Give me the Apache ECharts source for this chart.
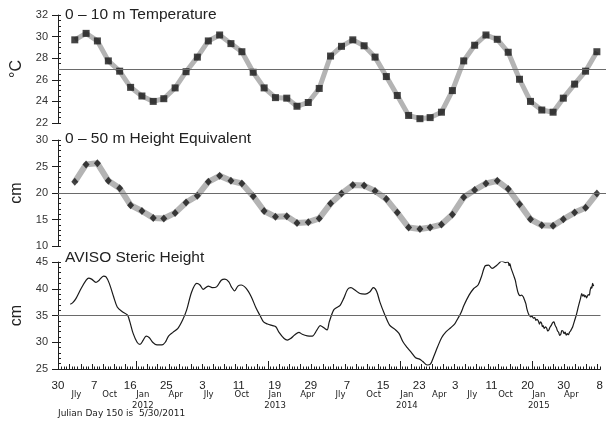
<!DOCTYPE html>
<html>
<head>
<meta charset="utf-8">
<title>Upper-ocean temperature, height equivalent and steric height</title>
<script src="https://cdn.jsdelivr.net/npm/echarts@6/dist/echarts.min.js"></script>
<style>
  html, body { margin: 0; padding: 0; background: #ffffff; }
  #chart { width: 606px; height: 423px; }
</style>
</head>
<body>
<div id="chart"></div>
<script>
// Monthly observation months (values are plotted at the 15th of each month)
const obsMonths = [
  '2011-07','2011-08','2011-09','2011-10','2011-11','2011-12',
  '2012-01','2012-02','2012-03','2012-04','2012-05','2012-06',
  '2012-07','2012-08','2012-09','2012-10','2012-11','2012-12',
  '2013-01','2013-02','2013-03','2013-04','2013-05','2013-06',
  '2013-07','2013-08','2013-09','2013-10','2013-11','2013-12',
  '2014-01','2014-02','2014-03','2014-04','2014-05','2014-06',
  '2014-07','2014-08','2014-09','2014-10','2014-11','2014-12',
  '2015-01','2015-02','2015-03','2015-04','2015-05','2015-06'
];

// 0-10 m temperature (deg C)
const tempC = [
  29.7, 30.3, 29.6, 27.75, 26.8, 25.3, 24.5, 24.0, 24.25, 25.25,
  26.75, 28.1, 29.6, 30.15, 29.35, 28.6, 26.7, 25.25, 24.35, 24.3,
  23.55, 23.9, 25.2, 28.2, 29.1, 29.7, 29.15, 28.1, 26.3, 24.55,
  22.7, 22.4, 22.5, 23.0, 25.0, 27.75, 29.2, 30.15, 29.75, 28.55,
  26.05, 24.0, 23.2, 23.0, 24.3, 25.6, 26.8, 28.6
];

// 0-50 m height equivalent (cm)
const heightCm = [
  22.1, 25.4, 25.6, 22.3, 20.9, 17.7, 16.6, 15.3, 15.2, 16.25,
  18.2, 19.5, 22.1, 23.25, 22.3, 21.8, 19.4, 16.6, 15.5, 15.6,
  14.35, 14.5, 15.2, 18.0, 19.9, 21.5, 21.4, 20.4, 18.85, 16.3,
  13.5, 13.2, 13.5, 14.05, 15.95, 19.2, 20.55, 21.8, 22.3, 20.75,
  17.9, 15.05, 13.9, 13.8, 15.05, 16.3, 17.2, 19.9
];

// AVISO steric height: Julian day (day 1 = 1 Jan 2011) and height (cm)
const stericDay = [
  184, 191, 200, 214, 228, 235, 243, 255, 264, 276, 283, 292, 304, 314, 328, 342,
  349, 358, 369, 377, 386, 394, 403, 412, 424, 438, 447, 456, 468, 482, 495, 506,
  520, 534, 543, 552, 566, 577, 589, 602, 612, 623, 630, 639, 648, 657, 671, 685,
  698, 710, 719, 730, 744, 753, 762, 776, 785, 794, 805, 817, 826, 840, 854, 867,
  876, 886, 895, 901, 913, 922, 931, 941, 952, 961, 972, 986, 1000, 1013, 1023, 1032,
  1041, 1055, 1068, 1082, 1094, 1105, 1117, 1128, 1140, 1151, 1160, 1172, 1181, 1190, 1201, 1212,
  1224, 1237, 1249, 1257, 1265, 1274, 1288, 1301, 1313, 1322, 1333, 1342, 1352, 1365, 1379, 1388,
  1396, 1399, 1401, 1404, 1408, 1412, 1416, 1419, 1423, 1426, 1429, 1433, 1438, 1441, 1445, 1448,
  1452, 1455, 1459, 1462, 1466, 1470, 1473, 1476, 1480, 1483, 1486, 1489, 1491, 1493, 1496, 1500,
  1503, 1506, 1509, 1512, 1516, 1519, 1523, 1526, 1530, 1533, 1536, 1539, 1542, 1545, 1548, 1551,
  1554, 1557, 1560, 1563, 1566, 1569, 1572, 1575, 1580, 1585, 1590, 1594, 1597, 1600, 1603, 1606,
  1608, 1611, 1613, 1615, 1618, 1621, 1623, 1626, 1628, 1630, 1633
];
const stericCm = [
  37.1, 37.4, 38.2, 40.05, 41.6, 42.0, 41.8, 41.2, 41.6, 42.35, 42.2, 41.0, 38.5, 36.6, 35.7, 35.1,
  33.8, 31.65, 30.0, 29.6, 30.4, 31.15, 30.85, 30.0, 29.5, 29.5, 30.0, 31.15, 31.85, 32.6, 34.15, 36.0,
  39.4, 41.0, 40.7, 39.9, 40.5, 40.2, 40.35, 41.6, 41.8, 41.3, 40.35, 39.6, 40.5, 40.7, 40.05, 38.5,
  36.45, 34.9, 33.8, 33.4, 33.1, 32.9, 31.85, 30.7, 30.4, 30.7, 31.35, 31.85, 31.5, 31.2, 31.15, 32.3,
  33.1, 32.7, 32.3, 33.8, 36.0, 36.5, 36.9, 38.2, 39.9, 40.2, 39.75, 39.1, 39.0, 39.4, 40.2, 39.55,
  37.55, 35.1, 33.2, 32.45, 31.65, 30.1, 29.0, 28.1, 27.1, 26.85, 26.4, 25.75, 25.9, 27.3, 29.15, 30.85,
  31.95, 32.7, 33.5, 34.45, 35.4, 36.9, 38.8, 40.05, 40.7, 42.2, 44.3, 44.4, 43.8, 44.4, 45.15, 44.9,
  45.0, 44.3, 44.7, 43.9, 43.15, 42.4, 41.6, 40.6, 39.4, 38.9, 38.7, 38.8, 38.5, 38.0, 37.25, 36.3,
  35.4, 35.0, 34.75, 34.9, 34.5, 34.6, 34.1, 34.3, 33.95, 33.4, 33.8, 33.5, 32.9, 33.1, 32.6, 32.9,
  32.6, 32.1, 32.3, 32.8, 33.2, 33.6, 33.8, 33.2, 32.7, 32.1, 31.85, 31.3, 31.5, 32.2, 32.1, 31.6,
  31.9, 31.35, 31.6, 31.4, 31.85, 32.1, 32.5, 32.9, 34.0, 35.1, 36.5, 37.55, 38.3, 39.1, 38.6, 38.9,
  38.5, 38.7, 38.3, 38.5, 38.9, 38.8, 39.6, 40.35, 40.1, 41.0, 40.5
];

// Time-axis labels: day of month every 100 Julian days, and quarter month names
const dayTicks = [150, 250, 350, 450, 550, 650, 750, 850, 950, 1050, 1150, 1250, 1350, 1450, 1550, 1650];
const dayTickLabels = ['30', '7', '16', '25', '3', '11', '19', '29', '7', '15', '23', '3', '11', '20', '30', '8'];
const quarterDates = [
  '2011-07-20', '2011-10-20', '2012-01-20', '2012-04-20', '2012-07-20', '2012-10-20',
  '2013-01-20', '2013-04-20', '2013-07-20', '2013-10-20', '2014-01-20', '2014-04-20',
  '2014-07-20', '2014-10-20', '2015-01-20', '2015-04-20'
];
const quarterLabels = [
  'Jly', 'Oct', 'Jan\n2012', 'Apr', 'Jly', 'Oct', 'Jan\n2013', 'Apr',
  'Jly', 'Oct', 'Jan\n2014', 'Apr', 'Jly', 'Oct', 'Jan\n2015', 'Apr'
];

// ---- helpers ----
const X_MIN = 150, X_MAX = 1652;
function julianDay(y, m, d) {
  return (Date.UTC(y, m - 1, d) - Date.UTC(2011, 0, 1)) / 864e5 + 1;
}
function jdFromIso(s) {
  const p = s.split('-').map(Number);
  return julianDay(p[0], p[1], p.length > 2 ? p[2] : 15);
}
const obsDays = obsMonths.map(jdFromIso);
const quarterDays = quarterDates.map(jdFromIso);

// tick positions along the time axis
const monthTicks = [], yearTicks = [], weekTicks = [];
for (let y = 2011; y <= 2015; y++) {
  for (let m = 1; m <= 12; m++) {
    const d0 = julianDay(y, m, 1);
    if (d0 > X_MIN && d0 <= X_MAX) (m === 1 ? yearTicks : monthTicks).push(d0);
    [8, 15, 22].forEach(function (dd) {
      const v = julianDay(y, m, dd);
      if (v > X_MIN && v <= X_MAX) weekTicks.push(v);
    });
  }
}
function steps(min, max, step) {
  const out = [];
  for (let v = min; v <= max + 1e-9; v += step) out.push(+v.toFixed(3));
  return out;
}

const SANS = 'Liberation Sans';
const INK = '#1e1e1e';
const GRIDS = [
  { left: 58, right: 0, top: 15, height: 108 },
  { left: 58, right: 0, top: 140, height: 106 },
  { left: 58, right: 0, top: 262, height: 107 }
];

function yAxes(grid, min, max, interval, minorStep, name) {
  return [{
    type: 'value', gridIndex: grid, position: 'left', min: min, max: max, interval: interval,
    name: name, nameLocation: 'middle', nameGap: 33, nameRotate: 90,
    nameTextStyle: { fontFamily: SANS, fontSize: 16, color: '#222' },
    axisLine: { show: true, lineStyle: { color: INK, width: 1 } },
    axisTick: { show: true, inside: false, length: 6, lineStyle: { color: INK, width: 1 } },
    axisLabel: { fontFamily: SANS, fontSize: 11, color: '#333', margin: 10 },
    splitLine: { show: false }
  }, {
    type: 'value', gridIndex: grid, position: 'left', min: min, max: max,
    axisLine: { show: false }, axisLabel: { show: false }, splitLine: { show: false },
    axisTick: { show: true, inside: true, length: 3, customValues: steps(min, max, minorStep),
      lineStyle: { color: INK, width: 1 } }
  }];
}

function hiddenX(grid) {
  return { type: 'value', gridIndex: grid, position: 'bottom', min: X_MIN, max: X_MAX, show: false };
}
function tickOnlyX(values, len) {
  return {
    type: 'value', gridIndex: 2, position: 'bottom', min: X_MIN, max: X_MAX,
    axisLine: { show: false }, axisLabel: { show: false }, splitLine: { show: false },
    axisTick: { show: true, inside: true, length: len, customValues: values, lineStyle: { color: INK, width: 1 } }
  };
}

function refLine(v) {
  return {
    silent: true, symbol: 'none', label: { show: false },
    lineStyle: { color: '#6a6a6a', width: 1, type: 'solid' },
    data: [{ yAxis: v }]
  };
}

const titleStyle = { fontFamily: SANS, fontSize: 15.5, fontWeight: 'normal', color: '#222', lineHeight: 18 };

const chart = echarts.init(document.getElementById('chart'), null, { renderer: 'canvas' });

chart.setOption({
  animation: false,
  backgroundColor: '#ffffff',
  title: [
    { text: '0 – 10 m Temperature', left: 65, top: 6, padding: 0, textStyle: titleStyle },
    { text: '0 – 50 m Height Equivalent', left: 65, top: 130, padding: 0, textStyle: titleStyle },
    { text: 'AVISO Steric Height', left: 65, top: 248.5, padding: 0, textStyle: titleStyle },
    { text: 'Julian Day 150 is  5/30/2011', left: 58, top: 408, padding: 0,
      textStyle: { fontFamily: 'DejaVu Sans', fontSize: 9, fontWeight: 'normal', color: '#222', lineHeight: 11 } }
  ],
  grid: GRIDS,
  xAxis: [
    hiddenX(0),
    hiddenX(1),
    {
      type: 'value', gridIndex: 2, position: 'bottom', min: X_MIN, max: X_MAX,
      axisLine: { show: true, lineStyle: { color: INK, width: 1 } },
      axisTick: { show: true, inside: true, length: 5, customValues: monthTicks, lineStyle: { color: INK, width: 1 } },
      axisLabel: {
        customValues: dayTicks, margin: 11, fontFamily: SANS, fontSize: 11.5, color: '#222',
        formatter: function (v) { const i = dayTicks.indexOf(v); return i >= 0 ? dayTickLabels[i] : ''; }
      },
      splitLine: { show: false }
    },
    tickOnlyX(yearTicks, 8),
    tickOnlyX(weekTicks, 2.5),
    {
      type: 'value', gridIndex: 2, position: 'bottom', min: X_MIN, max: X_MAX,
      axisLine: { show: false }, axisTick: { show: false }, splitLine: { show: false },
      axisLabel: {
        customValues: quarterDays, margin: 21, fontFamily: 'DejaVu Sans', fontSize: 8.5, lineHeight: 10.5, color: '#222',
        formatter: function (v) { const i = quarterDays.indexOf(v); return i >= 0 ? quarterLabels[i] : ''; }
      }
    }
  ],
  yAxis: [].concat(
    yAxes(0, 22, 32, 2, 0.5, '°C'),
    yAxes(1, 10, 30, 5, 1, 'cm'),
    yAxes(2, 25, 45, 5, 1, 'cm')
  ),
  series: [
    {
      name: 'Temperature band', type: 'line', xAxisIndex: 0, yAxisIndex: 0,
      data: obsDays.map(function (d, i) { return [d, tempC[i]]; }),
      symbol: 'none', lineStyle: { color: '#b4b4b4', width: 5 }, z: 2,
      markLine: refLine(27)
    },
    {
      name: '0 – 10 m Temperature', type: 'scatter', xAxisIndex: 0, yAxisIndex: 0,
      data: obsDays.map(function (d, i) { return [d, tempC[i]]; }),
      symbol: 'rect', symbolSize: 7, itemStyle: { color: '#161616' }, z: 3
    },
    {
      name: 'Height band', type: 'line', xAxisIndex: 1, yAxisIndex: 2,
      data: obsDays.map(function (d, i) { return [d, heightCm[i]]; }),
      symbol: 'none', lineStyle: { color: '#b4b4b4', width: 6 }, z: 2,
      markLine: refLine(20)
    },
    {
      name: '0 – 50 m Height Equivalent', type: 'scatter', xAxisIndex: 1, yAxisIndex: 2,
      data: obsDays.map(function (d, i) { return [d, heightCm[i]]; }),
      symbol: 'diamond', symbolSize: [7, 8], itemStyle: { color: '#161616' }, z: 3
    },
    {
      name: 'AVISO Steric Height', type: 'line', xAxisIndex: 2, yAxisIndex: 4,
      data: stericDay.map(function (d, i) { return [d, stericCm[i]]; }),
      symbol: 'none', smooth: 0.3, lineStyle: { color: '#1a1a1a', width: 1.2 }, z: 3,
      markLine: refLine(35)
    }
  ]
});
</script>
</body>
</html>
